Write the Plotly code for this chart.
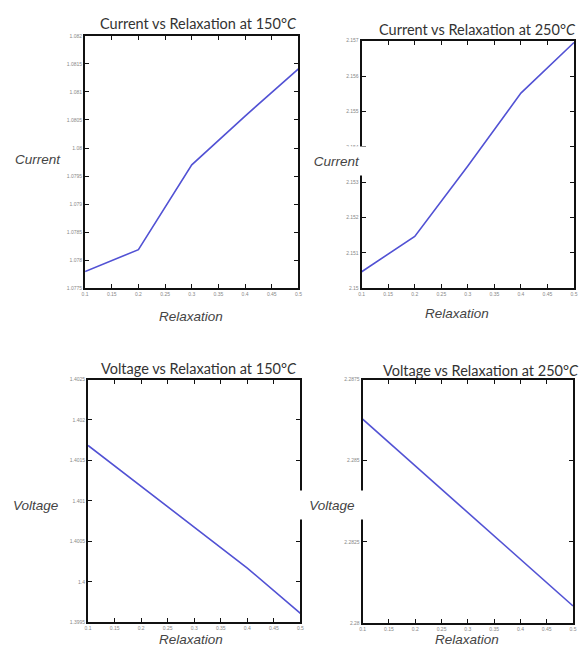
import plotly.graph_objects as go

# page is 587x657; the browser body has an 8px margin, so the figure is sized to fit inside it
PAGE_W, PAGE_H, OFF = 587, 657, 8
W, H = PAGE_W - 2 * OFF, PAGE_H - 2 * OFF

relaxation = [0.1, 0.2, 0.3, 0.4, 0.5]
current_150 = [1.07780, 1.07819, 1.07970, 1.08057, 1.08141]
current_250 = [2.15047, 2.15147, 2.15346, 2.15552, 2.15695]
voltage_150 = [1.401685, 1.40118, 1.400675, 1.40017, 1.39961]
voltage_250 = [2.28628, 2.28484, 2.28340, 2.28196, 2.28053]

x_ticks = [0.1, 0.15, 0.2, 0.25, 0.3, 0.35, 0.4, 0.45, 0.5]
y_ticks_c150 = [1.0775, 1.078, 1.0785, 1.079, 1.0795, 1.08, 1.0805, 1.081, 1.0815, 1.082]
y_ticks_c250 = [2.15, 2.151, 2.152, 2.153, 2.154, 2.155, 2.156, 2.157]
y_ticks_v150 = [1.3995, 1.4, 1.4005, 1.401, 1.4015, 1.402, 1.4025]
y_ticks_v250 = [2.28, 2.2825, 2.285, 2.2875]

titles = ["Current vs Relaxation at 150°<i>C</i>", "Current vs Relaxation at 250°<i>C</i>",
          "Voltage vs Relaxation at 150°<i>C</i>", "Voltage vs Relaxation at 250°<i>C</i>"]
y_titles = ["Current", "Current", "Voltage", "Voltage"]
x_title = "Relaxation"

# panel boxes in page pixels: (left, right, top, bottom)
boxes = [(83, 299, 33, 288), (363, 578, 38, 288), (86, 301, 380, 625), (364, 577, 380, 626)]
series = [current_150, current_250, voltage_150, voltage_250]
yticks = [y_ticks_c150, y_ticks_c250, y_ticks_v150, y_ticks_v250]

def px(x):
    return min(max((x - OFF) / W, 0.0), 1.0)

def py(y):
    return min(max(1 - (y - OFF) / H, 0.0), 1.0)

fig = go.Figure()
layout = dict(width=W, height=H, margin=dict(l=0, r=0, t=0, b=0),
              paper_bgcolor="white", plot_bgcolor="white", showlegend=False)

for i in range(4):
    l, r, t, b = boxes[i]
    xa = "xaxis" if i == 0 else f"xaxis{i+1}"
    ya = "yaxis" if i == 0 else f"yaxis{i+1}"
    xr = "x" if i == 0 else f"x{i+1}"
    yr = "y" if i == 0 else f"y{i+1}"
    fig.add_trace(go.Scatter(x=relaxation, y=series[i], mode="lines",
                             line=dict(color="#5252d4", width=1.6),
                             xaxis=xr, yaxis=yr, hoverinfo="skip"))
    yt = yticks[i]
    common = dict(showline=True, linecolor="#111111", linewidth=2, mirror="allticks",
                  ticks="inside", ticklen=4, tickcolor="#111111", tickwidth=1,
                  showgrid=False, zeroline=False,
                  tickfont=dict(size=5, color="#888888", family="Liberation Sans"))
    layout[xa] = dict(domain=[px(l), px(r)], anchor=yr, range=[0.1, 0.5],
                      tickvals=x_ticks, ticktext=[f"{v:g}" for v in x_ticks], **common)
    layout[ya] = dict(domain=[py(b), py(t)], anchor=xr, range=[yt[0], yt[-1]],
                      tickvals=yt, ticktext=[f"{v:g}" for v in yt], **common)

fig.update_layout(**layout)

ann = []
title_pos = [(198, 21), (480, 27), (198, 369), (484, 371)]
for i, (x, y) in enumerate(title_pos):
    ann.append(dict(x=px(x), y=py(y), xref="paper", yref="paper", text=titles[i],
                    showarrow=False, xanchor="center", yanchor="middle",
                    font=dict(family="Lato", size=14.5, color="#333333")))
xt_pos = [(190, 316), (460, 313), (190, 642), (470, 642)]
for x, y in xt_pos:
    ann.append(dict(x=px(x), y=py(y), xref="paper", yref="paper", text=f"<i>{x_title}</i>",
                    showarrow=False, xanchor="center", yanchor="middle",
                    font=dict(family="Liberation Sans", size=13.5, color="#444444")))
# (x, y, white box width or None)
yt_pos = [(35, 158, None), (338, 159, 50), (33, 507, None), (333, 507, 66)]
for i, (x, y, bw) in enumerate(yt_pos):
    a = dict(x=px(x), y=py(y), xref="paper", yref="paper", text=f"<i>{y_titles[i]}</i>",
             showarrow=False, xanchor="center", yanchor="middle",
             font=dict(family="Liberation Sans", size=13.5, color="#444444"))
    if bw:
        a["bgcolor"] = "white"
        a["width"] = bw
        a["height"] = 18
        a["borderpad"] = 5
    ann.append(a)
fig.update_layout(annotations=ann)

fig.write_html("out.html")
